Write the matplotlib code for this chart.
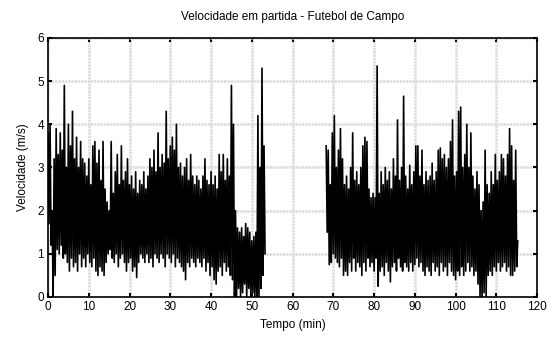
import numpy as np
import matplotlib.pyplot as plt

# Primeiro tempo: pares (pico, vale) a cada 0.5 min
t1_start = 0.0
v1 = [
    3.8, 1.7, 4.0, 1.2, 2.0, 0.0, 3.2, 0.5, 3.9, 1.1, 3.3, 1.0, 3.8, 1.2, 3.4, 0.9,
    4.9, 1.0, 3.0, 0.8, 4.0, 0.6, 3.5, 0.9, 4.3, 0.7, 3.2, 0.8, 3.7, 0.6, 3.0, 1.0,
    3.6, 0.7, 3.2, 0.9, 3.1, 0.7, 2.8, 1.0, 3.2, 0.8, 2.6, 0.7, 3.5, 0.9, 3.6, 0.6,
    3.1, 0.5, 3.4, 0.7, 2.7, 0.6, 3.6, 0.5, 2.5, 0.8, 2.2, 1.0, 2.0, 1.1, 3.6, 0.9,
    2.4, 0.8, 2.9, 1.0, 3.3, 0.7, 2.6, 0.9, 3.5, 1.0, 2.7, 0.8, 2.9, 0.6, 3.2, 0.8,
    2.6, 0.9, 2.8, 0.6, 2.5, 0.7, 2.9, 0.45, 2.4, 0.8, 2.7, 1.0, 2.6, 0.9, 2.9, 0.8,
    2.5, 1.0, 2.8, 0.8, 3.2, 0.9, 3.0, 0.7, 3.4, 1.0, 2.9, 0.9, 3.8, 0.8, 3.0, 1.0,
    3.3, 0.9, 3.1, 0.7, 4.3, 1.0, 3.2, 0.9, 3.5, 0.8, 3.7, 1.0, 3.4, 0.7, 4.0, 0.9,
    3.0, 0.8, 3.1, 0.7, 2.8, 0.6, 3.0, 0.4, 3.2, 0.8, 2.7, 0.7, 3.3, 0.9, 2.8, 0.8,
    2.6, 0.7, 2.8, 0.9, 2.7, 0.8, 2.5, 0.7, 2.8, 0.9, 3.2, 0.6, 2.7, 0.8, 2.6, 0.5,
    2.9, 0.7, 2.6, 0.4, 2.8, 0.3, 2.5, 0.6, 3.3, 0.7, 2.9, 0.5, 3.3, 0.8, 2.7, 0.6,
    3.2, 0.7, 2.8, 0.5, 4.9, 0.4, 4.0, 0.0, 2.0, 0.0, 1.6, 0.2, 1.5, 0.0, 1.6, 0.1,
    1.4, 0.3, 1.7, 0.0, 1.6, 0.2, 1.5, 0.0, 1.3, 0.1, 1.4, 0.0, 1.5, 0.0, 4.2, 0.0,
    3.0, 0.2, 5.3, 0.5, 3.5, 1.0,
]

# Segundo tempo
t2_start = 68.25
v2 = [
    3.5, 1.5, 3.4, 0.75, 2.6, 0.8, 3.8, 1.0, 4.2, 0.9, 3.0, 0.8, 3.4, 0.7, 3.9, 0.9,
    3.2, 0.5, 2.6, 0.6, 2.8, 0.5, 2.5, 0.8, 3.0, 0.6, 3.8, 0.9, 2.7, 0.6, 2.9, 0.8,
    2.6, 0.7, 3.0, 0.5, 3.5, 0.8, 3.7, 0.6, 3.6, 0.9, 2.5, 0.7, 2.3, 0.8, 2.4, 0.6,
    2.3, 0.9, 5.35, 0.25, 2.4, 0.6, 2.9, 0.7, 2.6, 0.5, 3.0, 0.8, 2.7, 0.6, 2.9, 0.35,
    2.5, 0.7, 3.2, 0.8, 2.8, 0.6, 4.1, 0.9, 2.7, 0.7, 3.0, 0.6, 4.65, 0.8, 2.8, 0.7,
    2.5, 0.6, 3.05, 0.8, 2.6, 0.6, 2.9, 0.75, 3.5, 0.9, 3.5, 0.7, 2.8, 0.8, 3.4, 0.6,
    2.6, 0.5, 2.9, 0.7, 2.7, 0.6, 2.8, 0.5, 3.1, 0.8, 2.7, 0.6, 2.9, 0.7, 3.4, 0.5,
    3.45, 0.8, 3.2, 0.6, 3.3, 0.7, 3.0, 0.5, 3.2, 0.8, 3.6, 0.6, 4.1, 0.5, 2.8, 0.4,
    2.9, 0.6, 4.3, 0.5, 4.4, 0.7, 3.0, 0.5, 3.3, 0.6, 4.0, 0.8, 3.0, 0.6, 3.8, 0.7,
    2.8, 0.5, 2.5, 0.6, 2.9, 0.3, 2.6, 0.0, 2.0, 0.0, 2.2, 0.1, 3.4, 0.0, 2.6, 0.5,
    2.4, 0.6, 2.9, 0.5, 2.6, 0.7, 3.3, 0.6, 2.7, 0.8, 2.9, 0.6, 3.3, 0.7, 3.2, 0.8,
    2.8, 0.6, 3.3, 0.7, 3.9, 0.5, 3.5, 0.5, 2.7, 0.6, 3.4, 0.7, 1.3,
]

dt = 0.25
t1 = t1_start + dt * np.arange(len(v1))
t2 = t2_start + dt * np.arange(len(v2))

plt.rcParams["font.family"] = ["Liberation Sans", "DejaVu Sans"]
plt.rcParams["font.size"] = 8.5

fig = plt.figure(figsize=(5.52, 3.39), dpi=100)
ax = fig.add_axes([0.087, 0.124, 0.886, 0.764])

ax.plot(t1, v1, color="black", linewidth=1.2, zorder=3)
ax.plot(t2, v2, color="black", linewidth=1.2, zorder=3)

ax.set_xlim(0, 120)
ax.set_ylim(0, 6)
ax.set_xticks(np.arange(0, 121, 10))
ax.set_yticks(np.arange(0, 7, 1))
# grade cinza clara, quase contínua
ax.grid(True, color="#dcdcdc", linewidth=1.8, linestyle=(0, (1, 0.3)), zorder=0)
ax.tick_params(direction="in", length=3, width=1.5, top=True, right=True,
               labeltop=False, labelright=False, pad=3)
for s in ax.spines.values():
    s.set_linewidth(1.2)

ax.set_title("Velocidade em partida - Futebol de Campo", fontsize=8.5, pad=13)
ax.set_xlabel("Tempo (min)", fontsize=8.5, labelpad=4)
ax.set_ylabel("Velocidade (m/s)", fontsize=8.5, labelpad=6)

fig.savefig("out.png", dpi=100)
